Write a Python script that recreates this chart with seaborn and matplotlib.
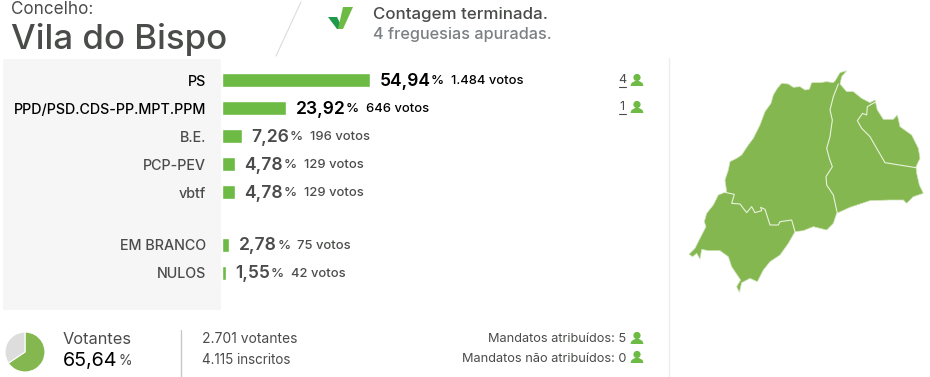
import matplotlib
matplotlib.use('Agg')
import matplotlib.pyplot as plt
import seaborn as sns
import pandas as pd
from matplotlib.patches import Circle, Polygon, Rectangle

# Results
parties = ['PS', 'PPD/PSD.CDS-PP.MPT.PPM', 'B.E.', 'PCP-PEV', 'vbtf']
party_pct = [54.94, 23.92, 7.26, 4.78, 4.78]
party_votes = ['1.484', '646', '196', '129', '129']
other_labels = ['EM BRANCO', 'NULOS']
other_pct = [2.78, 1.55]
other_votes = ['75', '42']
party_seats = ['4', '1']
turnout = [65.64, 34.36]

# Map outline (zoomed crop pixels)
map_outline = [(530,32),(510,38),(497,60),(490,68),(470,65),(450,68),(425,68),(418,88),(405,90),(390,80),
               (370,82),(355,72),(335,70),(322,85),(310,105),(303,130),(285,155),(270,195),(250,235),(235,255),
               (215,285),(200,295),(180,305),(175,330),(165,360),(170,395),(145,405),(130,435),(110,460),(103,485),
               (108,500),(85,545),(75,565),(57,583),(68,590),(80,580),(90,597),(95,568),(115,572),(150,572),
               (175,590),(185,620),(205,650),(212,660),(200,680),(208,697),(215,668),(240,655),(262,665),(280,630),
               (300,605),(330,585),(355,550),(375,515),(400,512),(430,500),(470,510),(490,490),(500,460),(540,442),
               (600,422),(660,420),(700,420),(710,430),(730,410),(760,400),(748,375),(740,340),(738,320),(750,295),
               (745,265),(725,225),(690,200),(682,165),(670,178),(640,178),(622,150),(615,120),(600,128),(575,115),
               (550,95),(530,95),(510,72),(515,50)]
map_borders = [
    [(505,72),(490,110),(480,150),(487,180),(480,230),(470,265),(478,295),(487,320),(468,350),(470,375),(490,405),(502,460)],
    [(618,125),(592,140),(590,165),(578,160),(562,182),(575,205),(600,230),(620,265),(645,308),(738,323)],
    [(165,397),(193,403),(185,430),(210,432),(230,458),(245,440),(255,458),(275,452),(272,442),(285,448),(300,495),(325,495),(330,485),(365,480),(375,515)],
]

BAR = '#6dbb45'
MAP = '#84b750'
DARK = '#4a4c4a'
GREY = '#7b8085'
W, H = 930, 377

sns.set_theme(style='white')
plt.rcParams['font.family'] = ['Inter', 'DejaVu Sans']

fig = plt.figure(figsize=(W / 100, H / 100), dpi=100)

# Page layer in pixel coordinates
page = fig.add_axes([0, 0, 1, 1])
page.set_xlim(0, W)
page.set_ylim(H, 0)
page.axis('off')


def px_axes(x0, y0, x1, y1):
    return fig.add_axes([x0 / W, 1 - y1 / H, (x1 - x0) / W, (y1 - y0) / H])


def person(x, y):
    # small seat icon
    page.add_patch(Circle((x, y - 2.5), 3.6, color=BAR, lw=0))
    page.add_patch(Polygon([(x - 6.5, y + 6), (x - 5.5, y + 3), (x - 2, y + 1), (x + 2, y + 1), (x + 5.5, y + 3), (x + 6.5, y + 6)],
                           color=BAR, lw=0))


def run_text(x, y, parts):
    # lay out text pieces one after the other
    rend = fig.canvas.get_renderer()
    for s, size, color, weight, gap in parts:
        t = page.text(x, y, s, fontsize=size, color=color, fontweight=weight, va='center', ha='left')
        box = t.get_window_extent(rend)
        x += box.width + gap


# Grey panel and rules
page.add_patch(Rectangle((3, 59), 218, 251, color='#f6f6f6', lw=0))
page.plot([301, 276], [2, 56], color='#dcdcdc', lw=0.8)
page.plot([669, 669], [58, 377], color='#eeeeee', lw=1)
page.plot([181, 181], [330, 376], color='#c8c8c8', lw=1)

# Header
page.text(11, 9, 'Concelho:', fontsize=12.3, color=DARK, va='center')
page.text(11, 39, 'Vila do Bispo', fontsize=25.1, color=DARK, va='center', fontweight='medium')
page.add_patch(Polygon([(328, 17), (337, 17), (343, 29), (337, 29)], color='#1f9a4a', lw=0))
page.add_patch(Polygon([(343, 7), (353, 7), (343, 29), (338, 29)], color=BAR, lw=0))
page.text(373, 14, 'Contagem terminada.', fontsize=12.2, color=DARK, fontweight='medium', va='center')
page.text(373, 34, '4 freguesias apuradas.', fontsize=11.7, color=GREY, fontweight='medium', va='center')


def draw_bars(labels, values, votes, y0, y1, colors):
    ax = px_axes(222, y0, 669, y1)
    df = pd.DataFrame({'label': labels, 'pct': values})
    sns.barplot(data=df, x='pct', y='label', color=BAR, saturation=1, width=0.5, ax=ax)
    ax.set_xlim(0, 447 / 2.69)
    ax.set_xlabel('')
    ax.set_ylabel('')
    ax.set_xticks([])
    ax.patch.set_alpha(0)
    sns.despine(ax=ax, left=True, bottom=True)
    ax.tick_params(axis='y', length=0, pad=11.5)
    for tick, c in zip(ax.get_yticklabels(), colors):
        tick.set_fontsize(10.3)
        tick.set_color(c)
        tick.set_fontweight('medium')
    for i, (p, v) in enumerate(zip(values, votes)):
        c = colors[i]
        x = 222 + p * 2.69 + 9.5
        y = y0 + (y1 - y0) * (i + 0.5) / len(labels) + 1
        run_text(x, y, [(f'{p:.2f}'.replace('.', ','), 12.6, c, 'semibold', 0.5),
                        ('%', 9.5, c, 'medium', 7),
                        (f'{v} votos', 9.3, c, 'medium', 0)])


draw_bars(parties, party_pct, party_votes, 66, 206, ['black', 'black', DARK, DARK, DARK])
draw_bars(other_labels, other_pct, other_votes, 231, 287, [DARK, DARK])

# Seats column
for s, y in zip(party_seats, [80, 107]):
    page.text(622, y, s, fontsize=9, color=DARK, ha='center', va='center')
    page.plot([619, 626], [y + 7, y + 7], color=DARK, lw=0.8)
    person(637, y)

# Map
to_page = lambda pts: [(670 + a / 3, 60 + b / 3) for a, b in pts]
page.add_patch(Polygon(to_page(map_outline), closed=True, facecolor=MAP, edgecolor='#cfe3b8', lw=0.5))
for line in map_borders:
    xs, ys = zip(*to_page(line))
    page.plot(xs, ys, color='#e9f2dd', lw=0.8)

# Turnout
pie_ax = px_axes(5, 332, 45, 372)
pie_ax.pie(turnout, colors=[MAP, '#dddddd'], startangle=90, counterclock=False,
           radius=1.0, wedgeprops={'edgecolor': 'white', 'linewidth': 0.8})
pie_ax.set_xlim(-1, 1)
pie_ax.set_ylim(-1, 1)
pie_ax.set_aspect('equal')

page.text(63, 339, 'Votantes', fontsize=11.8, color=DARK, va='center')
run_text(63, 361, [(f'{turnout[0]:.2f}'.replace('.', ','), 14.2, 'black', 'normal', 0.5),
                   ('%', 10, DARK, 'normal', 0)])
page.text(202, 339, '2.701 votantes', fontsize=10, color=DARK, va='center')
page.text(202, 360, '4.115 inscritos', fontsize=9.7, color=DARK, va='center')

page.text(626, 339, 'Mandatos atribuídos: 5', fontsize=9.2, color=DARK, ha='right', va='center')
page.text(626, 359, 'Mandatos não atribuídos: 0', fontsize=9.2, color=DARK, ha='right', va='center')
person(637, 338)
person(637, 357)

fig.savefig('out.png', dpi=100)
